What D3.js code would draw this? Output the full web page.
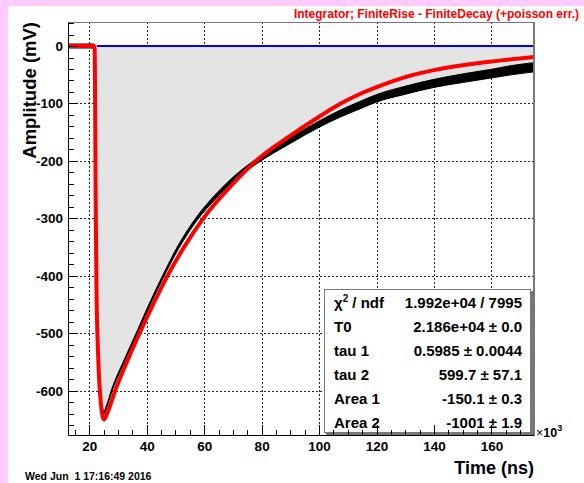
<!DOCTYPE html>
<meta charset="utf-8">
<style>
    body {
        margin: 0;
        background-color: #FFCCFF;
    }

    svg text {
        font-family: "Liberation Sans", Arial, Helvetica, sans-serif;
        font-weight: bold;
    }

    .axis path {
        stroke: #000;
        stroke-width: 1px;
    }

    .axis line {
        stroke: #000;
        stroke-width: 1px;
        shape-rendering: crispEdges;
    }

    .axis text {
        font-size: 13.5px;
        fill: #000;
    }

    .grid line {
        stroke: #222;
        stroke-width: 1px;
        stroke-dasharray: 2, 2;
        shape-rendering: crispEdges;
    }

    .fit {
        fill: none;
        stroke: #FF0000;
        stroke-width: 4px;
        stroke-linejoin: round;
    }

    .base {
        fill: none;
        stroke: #0000FF;
        stroke-width: 2px;
    }
</style>

<body>
    <svg width="584" height="483"></svg>
</body>
<script src="https://d3js.org/d3.v7.min.js"></script>
<script>
    // measured trace (time in 10^3 ns, amplitude in mV) with its noise half-width
    var dataX = [12.6, 15, 18, 21.7, 21.9, 22.2, 22.6, 23.3, 24.2, 25.1, 26.0, 27.8, 32.2, 36.7, 41, 45.5, 51, 57.5, 64, 71, 79, 89.8, 100, 107.2, 114.2, 120, 130, 140, 150, 160, 167, 174.8];
    var dataY = [0, 0, 0, 0, -80, -330, -480, -570, -620, -638, -628, -600, -548, -498, -450, -403, -350, -300, -262, -228, -198, -165, -136, -118, -103, -91, -77, -65, -56, -48, -42, -37];
    var dataNoise = [3.5, 3.5, 3.5, 3.5, 2.5, 2.5, 2.5, 2.5, 2.5, 2.5, 2.5, 2.5, 2.5, 2.5, 3, 3, 3.5, 3.5, 4, 4, 4.5, 5, 5.5, 6, 6.5, 6.5, 7, 7, 7.5, 7.5, 8, 8];

    // fit curve
    var fitX = [12.6, 21.6, 21.85, 22.0, 22.2, 22.5, 23.1, 24.0, 25.1, 26.5, 29.0, 33.5, 38.6, 42.5, 46.9, 53, 59.7, 70, 78, 90, 100, 107.2, 114.2, 120, 130, 140, 150, 160, 174.8];
    var fitY = [0, 0, -5, -60, -250, -420, -540, -620, -650, -636, -600, -545, -488, -447, -403, -350, -300, -240, -200, -156, -123, -101, -83.5, -71.5, -54, -42, -33.5, -27, -19];

    // baseline
    var baseX = [22.6, 174.8];
    var baseY = [0, 0];

    var xMajor = [20, 40, 60, 80, 100, 120, 140, 160];
    var xMinor = d3.range(15, 175, 5);
    var yMajor = [-600, -500, -400, -300, -200, -100, 0];
    var yMinor = d3.range(-660, 41, 20);

    var statNames = ["ndf", "T0", "tau 1", "tau 2", "Area 1", "Area 2"];
    var statValues = ["1.992e+04 / 7995", "2.186e+04 \u00b1 0.0", "0.5985 \u00b1 0.0044", "599.7 \u00b1 57.1", "-150.1 \u00b1 0.3", "-1001 \u00b1 1.9"];

    var svg = d3.select("svg"),
        frame = {
            left: 68,
            right: 534,
            top: 22,
            bottom: 435
        };

    // white pad inside the pink canvas
    svg.append("rect")
        .attr("x", 8)
        .attr("y", 6)
        .attr("width", 576)
        .attr("height", 477)
        .attr("fill", "#fff");

    var x = d3.scaleLinear().domain([12.6, 174.8]).range([frame.left, frame.right]);
    var y = d3.scaleLinear().domain([-677, 41.8]).range([frame.bottom, frame.top]);

    svg.append("clipPath")
        .attr("id", "clip")
        .append("rect")
        .attr("x", frame.left)
        .attr("y", frame.top)
        .attr("width", frame.right - frame.left)
        .attr("height", frame.bottom - frame.top);

    // grid
    var grid = svg.append("g").attr("class", "grid");
    grid.selectAll(".gx")
        .data(xMajor)
        .enter().append("line")
        .attr("x1", function(d) { return Math.round(x(d)) + 0.5; })
        .attr("x2", function(d) { return Math.round(x(d)) + 0.5; })
        .attr("y1", frame.top)
        .attr("y2", frame.bottom);
    grid.selectAll(".gy")
        .data(yMajor)
        .enter().append("line")
        .attr("x1", frame.left)
        .attr("x2", frame.right)
        .attr("y1", function(d) { return Math.round(y(d)) + 0.5; })
        .attr("y2", function(d) { return Math.round(y(d)) + 0.5; });

    var plot = svg.append("g").attr("clip-path", "url(#clip)");

    var pts = dataX.map(function(d, i) {
        return { t: d, v: dataY[i], n: dataNoise[i] };
    });

    // histogram fill
    plot.append("path")
        .datum(pts.filter(function(d) { return d.t >= 21.7; }))
        .attr("fill", "#E3E3E3")
        .attr("d", d3.area()
            .curve(d3.curveMonotoneX)
            .x(function(d) { return x(d.t); })
            .y0(y(0))
            .y1(function(d) { return y(d.v); }));

    // noisy trace drawn as its envelope
    plot.append("path")
        .datum(pts)
        .attr("fill", "#000")
        .attr("stroke", "#000")
        .attr("stroke-width", 1)
        .attr("d", d3.area()
            .curve(d3.curveMonotoneX)
            .x(function(d) { return x(d.t); })
            .y0(function(d) { return y(d.v - d.n); })
            .y1(function(d) { return y(d.v + d.n); }));

    plot.append("path")
        .datum(baseX.map(function(d, i) { return [d, baseY[i]]; }))
        .attr("class", "base")
        .attr("d", d3.line()
            .x(function(d) { return x(d[0]); })
            .y(function(d) { return y(d[1]); }));

    plot.append("path")
        .datum(fitX.map(function(d, i) { return [d, fitY[i]]; }))
        .attr("class", "fit")
        .attr("d", d3.line()
            .curve(d3.curveMonotoneX)
            .x(function(d) { return x(d[0]); })
            .y(function(d) { return y(d[1]); }));

    // frame top / right
    svg.append("line")
        .attr("x1", frame.left).attr("x2", frame.right)
        .attr("y1", frame.top + 0.5).attr("y2", frame.top + 0.5)
        .attr("stroke", "#777");
    svg.append("line")
        .attr("x1", frame.right).attr("x2", frame.right)
        .attr("y1", frame.top).attr("y2", frame.bottom)
        .attr("stroke", "#777")
        .attr("stroke-width", 2);

    // stats box
    var box = svg.append("g");
    box.append("rect")
        .attr("x", 326).attr("y", 291)
        .attr("width", 207).attr("height", 144)
        .attr("fill", "#777");
    box.append("rect")
        .attr("x", 324.5).attr("y", 289.5)
        .attr("width", 206).attr("height", 143)
        .attr("fill", "#fff")
        .attr("stroke", "#777")
        .attr("stroke-width", 1);

    var rows = box.selectAll(".row")
        .data(statNames)
        .enter().append("g")
        .attr("transform", function(d, i) { return "translate(0," + (308 + i * 24) + ")"; });

    rows.append("text")
        .attr("x", 334)
        .style("font-size", "15px")
        .each(function(d, i) {
            var t = d3.select(this);
            if (i === 0) {
                t.append("tspan").text("\u03c7");
                t.append("tspan").attr("dy", -6).style("font-size", "10px").text("2");
                t.append("tspan").attr("dy", 6).text(" / " + d);
            } else {
                t.text(d);
            }
        });

    rows.append("text")
        .attr("x", 522)
        .attr("text-anchor", "end")
        .style("font-size", "15px")
        .text(function(d, i) { return statValues[i]; });

    // axes (ROOT style: ticks point into the frame, plain hyphen minus)
    var plain = function(d) { return String(d); };

    svg.append("g")
        .attr("class", "axis")
        .attr("transform", "translate(0," + frame.bottom + ")")
        .call(d3.axisBottom(x).tickValues(xMinor).tickSize(-5).tickFormat("").tickSizeOuter(0));
    svg.append("g")
        .attr("class", "axis")
        .attr("transform", "translate(0," + frame.bottom + ")")
        .call(d3.axisBottom(x).tickValues(xMajor).tickSize(-10).tickPadding(6).tickSizeOuter(0).tickFormat(plain))
        .select(".domain").remove();

    svg.append("g")
        .attr("class", "axis")
        .attr("transform", "translate(" + frame.left + ",0)")
        .call(d3.axisLeft(y).tickValues(yMinor).tickSize(-6).tickFormat("").tickSizeOuter(0));
    svg.append("g")
        .attr("class", "axis")
        .attr("transform", "translate(" + frame.left + ",0)")
        .call(d3.axisLeft(y).tickValues(yMajor).tickSize(-10).tickPadding(5).tickSizeOuter(0).tickFormat(plain))
        .select(".domain").remove();

    svg.selectAll(".axis .tick text").style("font-weight", "bold");

    // titles
    svg.append("text")
        .attr("transform", "translate(36," + frame.top + ") rotate(-90)")
        .attr("text-anchor", "end")
        .style("font-size", "18.5px")
        .text("Amplitude (mV)");

    svg.append("text")
        .attr("x", frame.right)
        .attr("y", 474)
        .attr("text-anchor", "end")
        .style("font-size", "18px")
        .text("Time (ns)");

    var ex = svg.append("text")
        .attr("x", 536)
        .attr("y", 437)
        .style("font-size", "12.5px");
    ex.append("tspan").style("font-weight", "normal").text("\u00d7");
    ex.append("tspan").text("10");
    ex.append("tspan").attr("dy", -6).style("font-size", "9px").text("3");

    svg.append("text")
        .attr("x", 579)
        .attr("y", 18)
        .attr("text-anchor", "end")
        .attr("fill", "#FF0000")
        .style("font-size", "12px")
        .text("Integrator; FiniteRise - FiniteDecay (+poisson err.)");

    svg.append("text")
        .attr("x", 25)
        .attr("y", 480)
        .style("font-size", "10.5px")
        .style("white-space", "pre")
        .text("Wed Jun  1 17:16:49 2016");
</script>
